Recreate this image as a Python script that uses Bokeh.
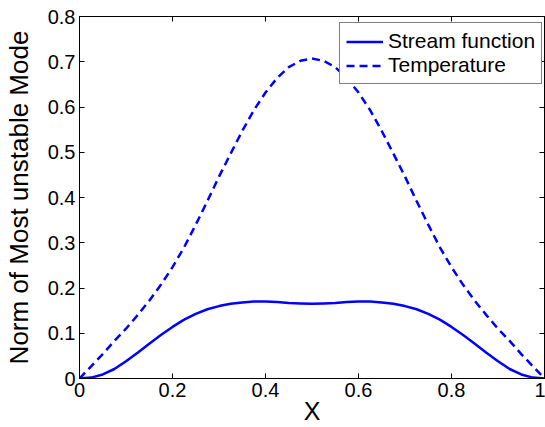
from bokeh.plotting import figure
from bokeh.models import (Range1d, LinearAxis, FixedTicker, CustomJSTickFormatter,
                          Legend, LegendItem, ColumnDataSource)
from bokeh.embed import file_html
from bokeh.resources import INLINE

# Position along the domain
x = [0.0, 0.025, 0.05, 0.075, 0.1, 0.125, 0.15, 0.175, 0.2, 0.225, 0.25,
     0.275, 0.3, 0.325, 0.35, 0.375, 0.4, 0.425, 0.45, 0.475, 0.5,
     0.525, 0.55, 0.575, 0.6, 0.625, 0.65, 0.675, 0.7, 0.725, 0.75,
     0.775, 0.8, 0.825, 0.85, 0.875, 0.9, 0.925, 0.95, 0.975, 1.0]

# Norm of the stream-function component of the most unstable mode
stream = [0.0, 0.002, 0.009, 0.021, 0.038, 0.057, 0.077, 0.096, 0.114, 0.130, 0.143,
          0.153, 0.160, 0.165, 0.168, 0.170, 0.170, 0.169, 0.167, 0.166, 0.165,
          0.166, 0.167, 0.169, 0.170, 0.170, 0.168, 0.165, 0.160, 0.153, 0.143,
          0.130, 0.114, 0.096, 0.077, 0.057, 0.038, 0.021, 0.009, 0.002, 0.0]

# Norm of the temperature component of the most unstable mode
temperature = [0.0, 0.027, 0.054, 0.083, 0.110, 0.140, 0.172, 0.207, 0.246, 0.290, 0.340,
               0.392, 0.446, 0.497, 0.547, 0.593, 0.632, 0.664, 0.688, 0.702, 0.707,
               0.702, 0.688, 0.664, 0.632, 0.593, 0.547, 0.497, 0.446, 0.392, 0.340,
               0.290, 0.246, 0.207, 0.172, 0.140, 0.110, 0.083, 0.054, 0.027, 0.0]

x_ticks = [0, 0.2, 0.4, 0.6, 0.8, 1.0]
y_ticks = [0, 0.1, 0.2, 0.3, 0.4, 0.5, 0.6, 0.7, 0.8]

FONT = "Liberation Sans"
BLUE = "#0000ff"

src = ColumnDataSource(dict(x=x, stream=stream, temperature=temperature))

p = figure(width=545, height=427, x_range=Range1d(0, 1), y_range=Range1d(0, 0.8),
           output_backend="svg", toolbar_location=None,
           min_border_left=77, min_border_right=1, min_border_top=16, min_border_bottom=49)
p.xgrid.visible = False
p.ygrid.visible = False
p.outline_line_color = "black"
p.outline_line_width = 1
p.background_fill_color = "white"
p.border_fill_color = "white"

fmt = CustomJSTickFormatter(code="return String(Math.round(tick * 10) / 10);")
blank = CustomJSTickFormatter(code="return '';")


def style_axis(ax, ticks, formatter, standoff):
    ax.ticker = FixedTicker(ticks=ticks)
    ax.formatter = formatter
    ax.major_tick_in = 5
    ax.major_tick_out = 0
    ax.minor_tick_in = 0
    ax.minor_tick_out = 0
    ax.axis_line_color = "black"
    ax.axis_line_width = 1
    ax.major_tick_line_color = "black"
    ax.major_tick_line_width = 1
    ax.major_label_text_font = FONT
    ax.major_label_text_font_size = "20px"
    ax.major_label_text_color = "black"
    ax.major_label_standoff = standoff
    ax.axis_label_text_font = FONT
    ax.axis_label_text_font_style = "normal"
    ax.axis_label_text_color = "black"


xa = p.xaxis[0]
style_axis(xa, x_ticks, fmt, 4)
xa.axis_label = "X"
xa.axis_label_text_font_size = "25px"
xa.axis_label_standoff = -3

ya = p.yaxis[0]
style_axis(ya, y_ticks, fmt, 4)
ya.axis_label = "Norm of Most unstable Mode"
ya.axis_label_text_font_size = "26px"
ya.axis_label_standoff = 11

top = LinearAxis()
style_axis(top, x_ticks, blank, 0)
p.add_layout(top, "above")
right = LinearAxis()
style_axis(right, y_ticks, blank, 0)
p.add_layout(right, "right")

r_stream = p.line("x", "stream", source=src, line_color=BLUE, line_width=2.5)
r_temp = p.line("x", "temperature", source=src, line_color=BLUE, line_width=2.5,
                line_dash="8 5")

legend = Legend(items=[LegendItem(label="Stream function", renderers=[r_stream]),
                       LegendItem(label="Temperature", renderers=[r_temp])],
                location=(260, 294), margin=0, padding=6, spacing=0,
                glyph_width=37, glyph_height=23, label_height=23,
                label_standoff=5,
                label_text_font=FONT, label_text_font_size="21px",
                label_text_color="black",
                border_line_color="black", border_line_width=1,
                background_fill_color="white", background_fill_alpha=1)
p.add_layout(legend, "center")

open("out.html", "w").write(file_html(p, INLINE))
